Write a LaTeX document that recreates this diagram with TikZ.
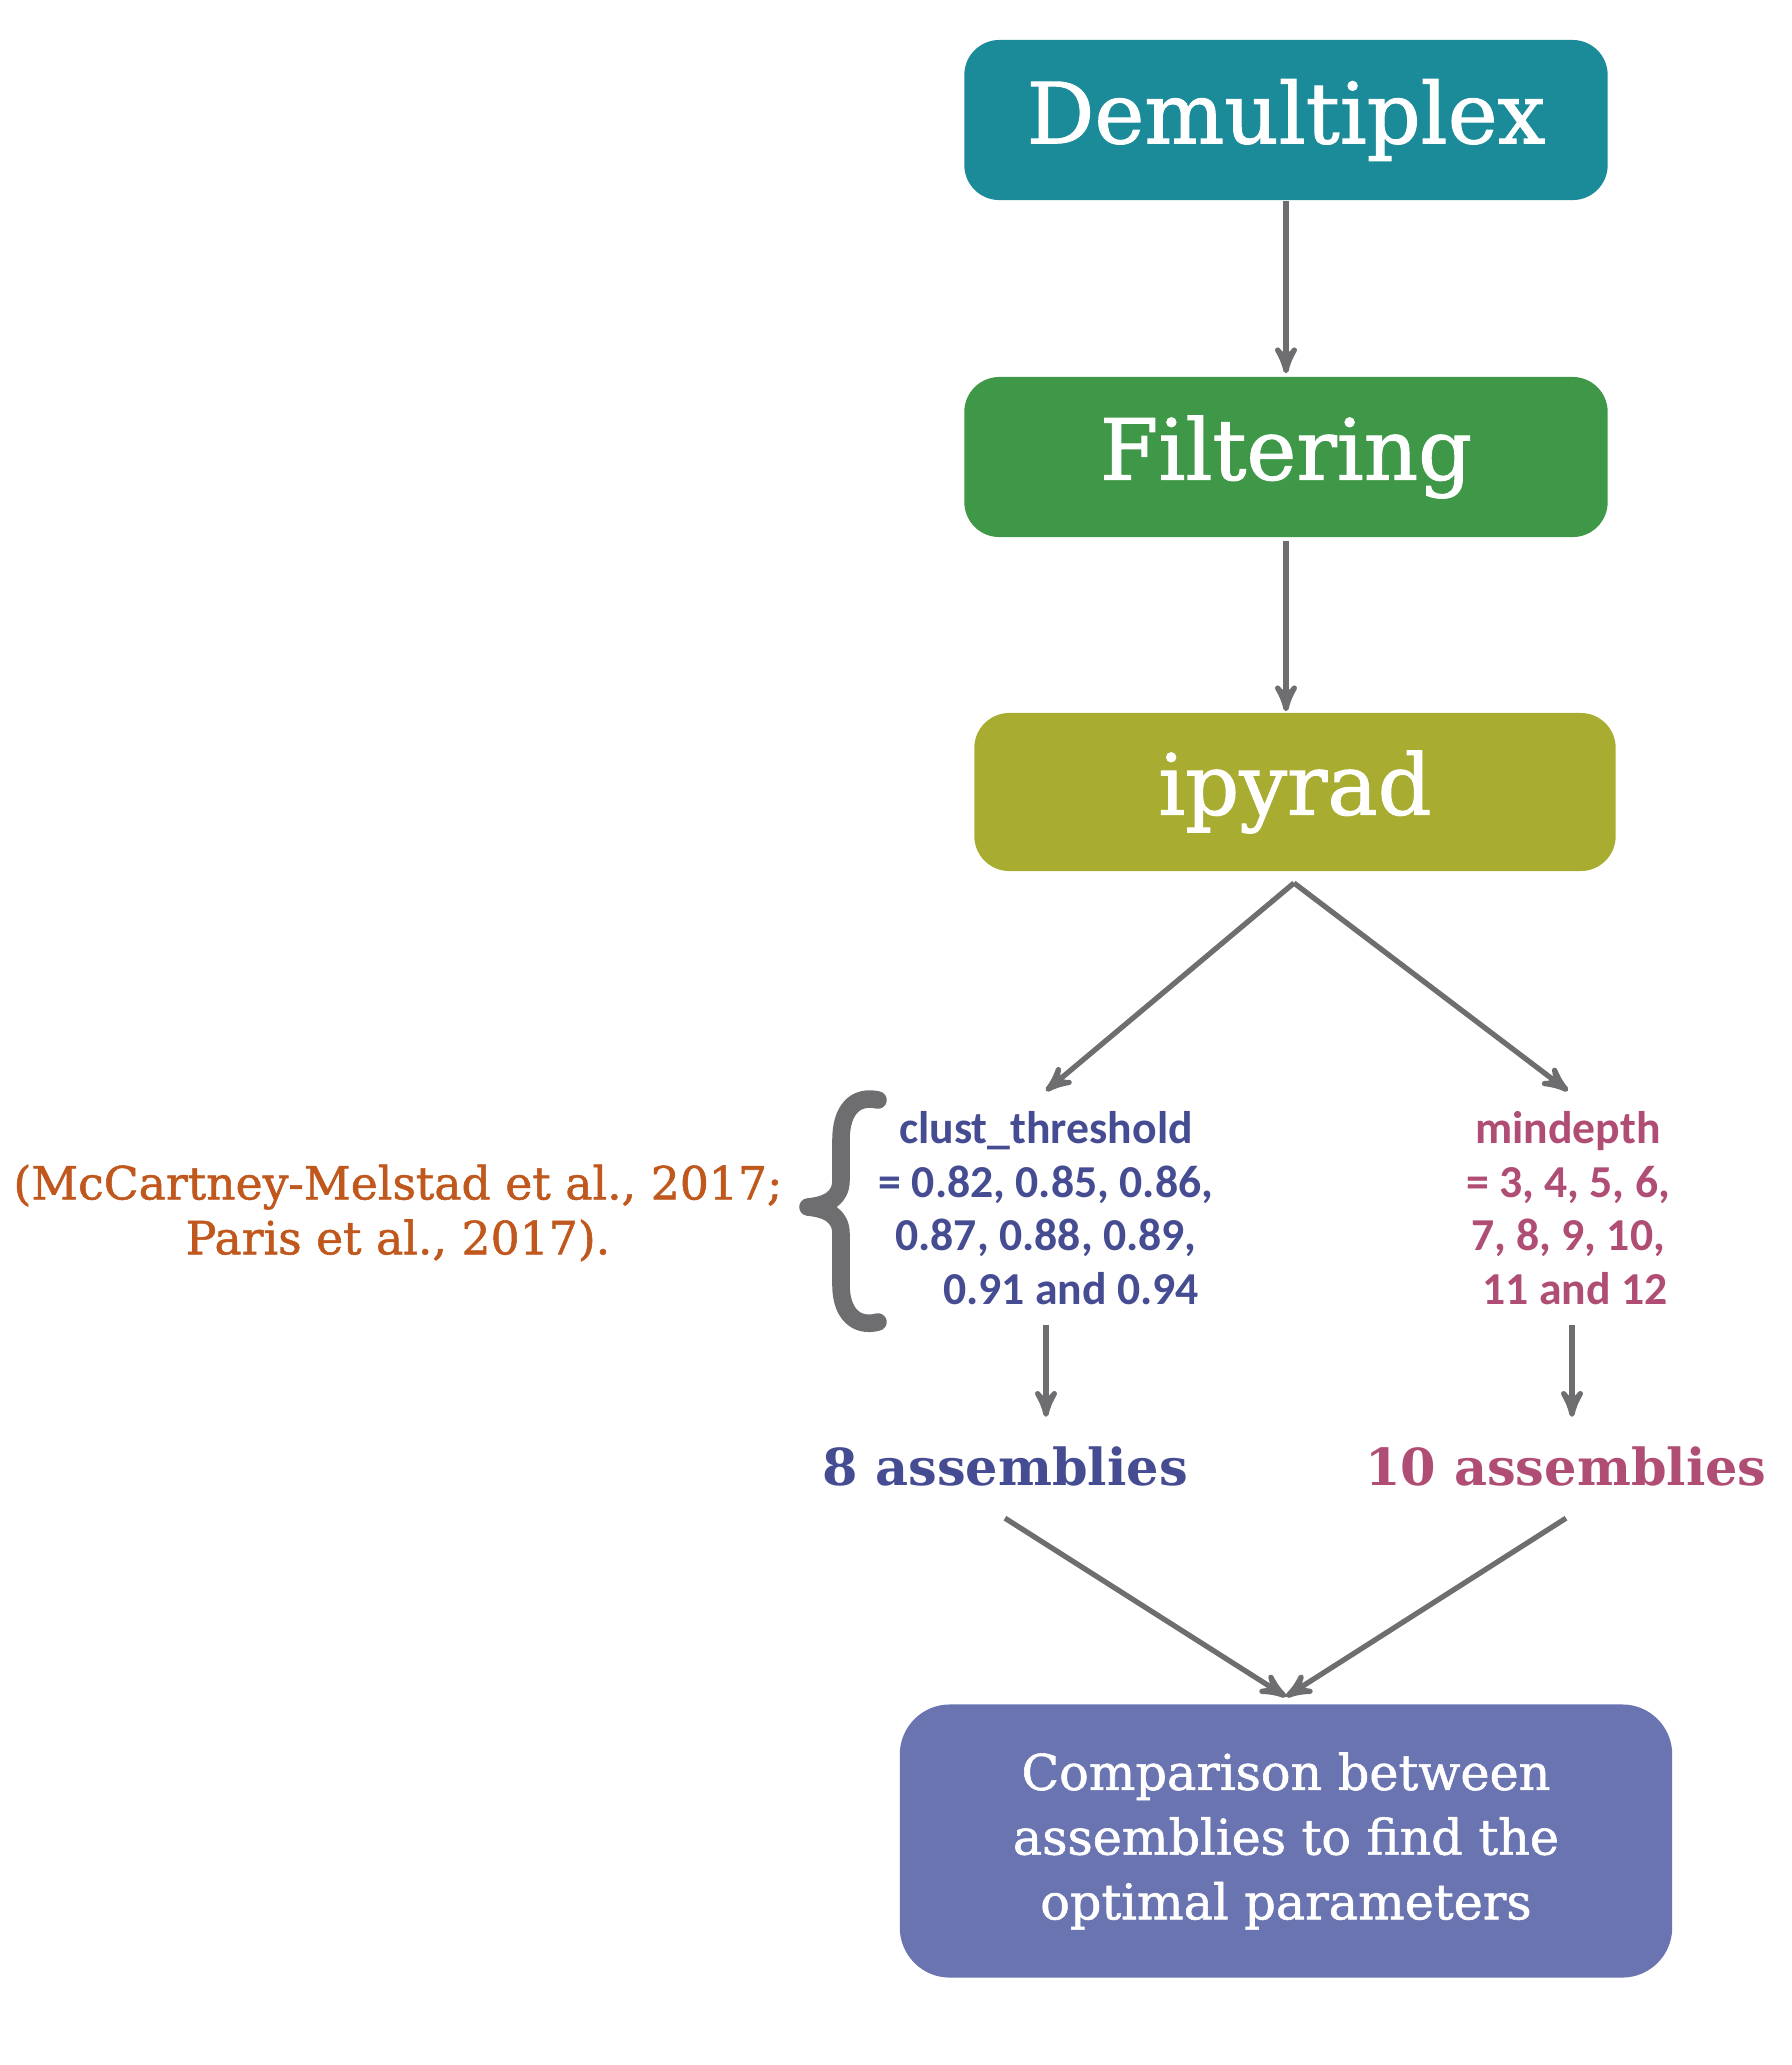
\documentclass[tikz,border=0pt]{standalone}
\usepackage{fontspec}
\setmainfont{DejaVu Serif}
\newfontfamily\boxfont[FakeBold=1.2]{DejaVu Serif}
\newfontfamily\calibfont{Carlito}
\usetikzlibrary{arrows}

\definecolor{demuxcol}{HTML}{1B8B99}
\definecolor{filtcol}{HTML}{3E9848}
\definecolor{ipycol}{HTML}{A8AC30}
\definecolor{compcol}{HTML}{6A74B0}
\definecolor{clustcol}{HTML}{454C91}
\definecolor{depthcol}{HTML}{B04D74}
\definecolor{citecol}{HTML}{C0581E}
\definecolor{arrcol}{HTML}{6E6E70}

\tikzset{
 stepbox/.style={rounded corners=0.35cm, text=white, inner sep=0,
   minimum width=6.43cm, minimum height=1.6cm,
   font=\boxfont\fontsize{24}{29}\selectfont},
 arr/.style={arrcol, line width=1.5pt, ->, >=stealth'},
 paramtext/.style={align=center, inner sep=0.2cm,
   font=\calibfont\bfseries\fontsize{13}{15.2}\selectfont},
 asmtext/.style={font=\bfseries\fontsize{14.5}{17}\selectfont}
}

\begin{document}
\begin{tikzpicture}[x=0.01cm,y=-0.01cm]
\useasboundingbox (0,0) rectangle (1792,2065);
% pipeline boxes
\node[stepbox, fill=demuxcol] (demux) at (1286,120) {Demultiplex};
\node[stepbox, fill=filtcol] (filt) at (1286,457) {Filtering};
\node[stepbox, fill=ipycol, minimum width=6.41cm, minimum height=1.58cm] (ipy) at (1295,792) {ipyrad};
\node[stepbox, fill=compcol, minimum width=7.72cm, minimum height=2.73cm, rounded corners=0.5cm,
  align=center, font=\boxfont\fontsize{14}{18.4}\selectfont] (comp) at (1286,1841)
  {Comparison between\\assemblies to find the\\optimal parameters};

% parameters
\node[paramtext, text=clustcol] (clust) at (1046,1208)
  {clust\_threshold\\= 0.82, 0.85, 0.86,\\0.87, 0.88, 0.89,\\\hspace*{1.1em}0.91 and 0.94};
\node[paramtext, text=depthcol] (depth) at (1568,1208)
  {mindepth\\= 3, 4, 5, 6,\\7, 8, 9, 10,\\\hspace*{0.3em}11 and 12};
\node[align=center, text=citecol, font=\boxfont\fontsize{13}{15.6}\selectfont] (cite) at (398,1213)
  {(McCartney-Melstad et al., 2017;\\Paris et al., 2017).};
\draw[arrcol, line width=5pt, line cap=round, line join=round]
  (878,1100) .. controls (855,1095) and (841,1110) .. (841,1140) -- (841,1180)
  .. controls (841,1198) and (828,1205) .. (808,1207)
  .. controls (828,1209) and (841,1216) .. (841,1234) -- (841,1285)
  .. controls (841,1312) and (855,1328) .. (878,1322);

% results
\node[asmtext, text=clustcol] (eight) at (1005,1466) {8 assemblies};
\node[asmtext, text=depthcol] (ten) at (1566,1466) {10 assemblies};

% connectors
\coordinate (split) at (1294,883);
\draw[arr, shorten >=0.03cm] (demux) -- (filt);
\draw[arr, shorten <=0.03cm, shorten >=0.01cm] (filt.south) -- (filt.south |- ipy.north);
\draw[arr] (split) -- (clust.north);
\draw[arr] (split) -- (depth.north);
\draw[arr, shorten >=0.17cm] (clust.south) -- (clust.south |- eight.north);
\draw[arr, shorten >=0.17cm] ([xshift=0.04cm]depth.south) -- ([xshift=0.04cm]depth.south |- ten.north);
\draw[arr] ([yshift=-0.2cm]eight.south) -- ([yshift=0.07cm]comp.north);
\draw[arr] ([yshift=-0.2cm]ten.south) -- ([yshift=0.07cm]comp.north);
\end{tikzpicture}
\end{document}
